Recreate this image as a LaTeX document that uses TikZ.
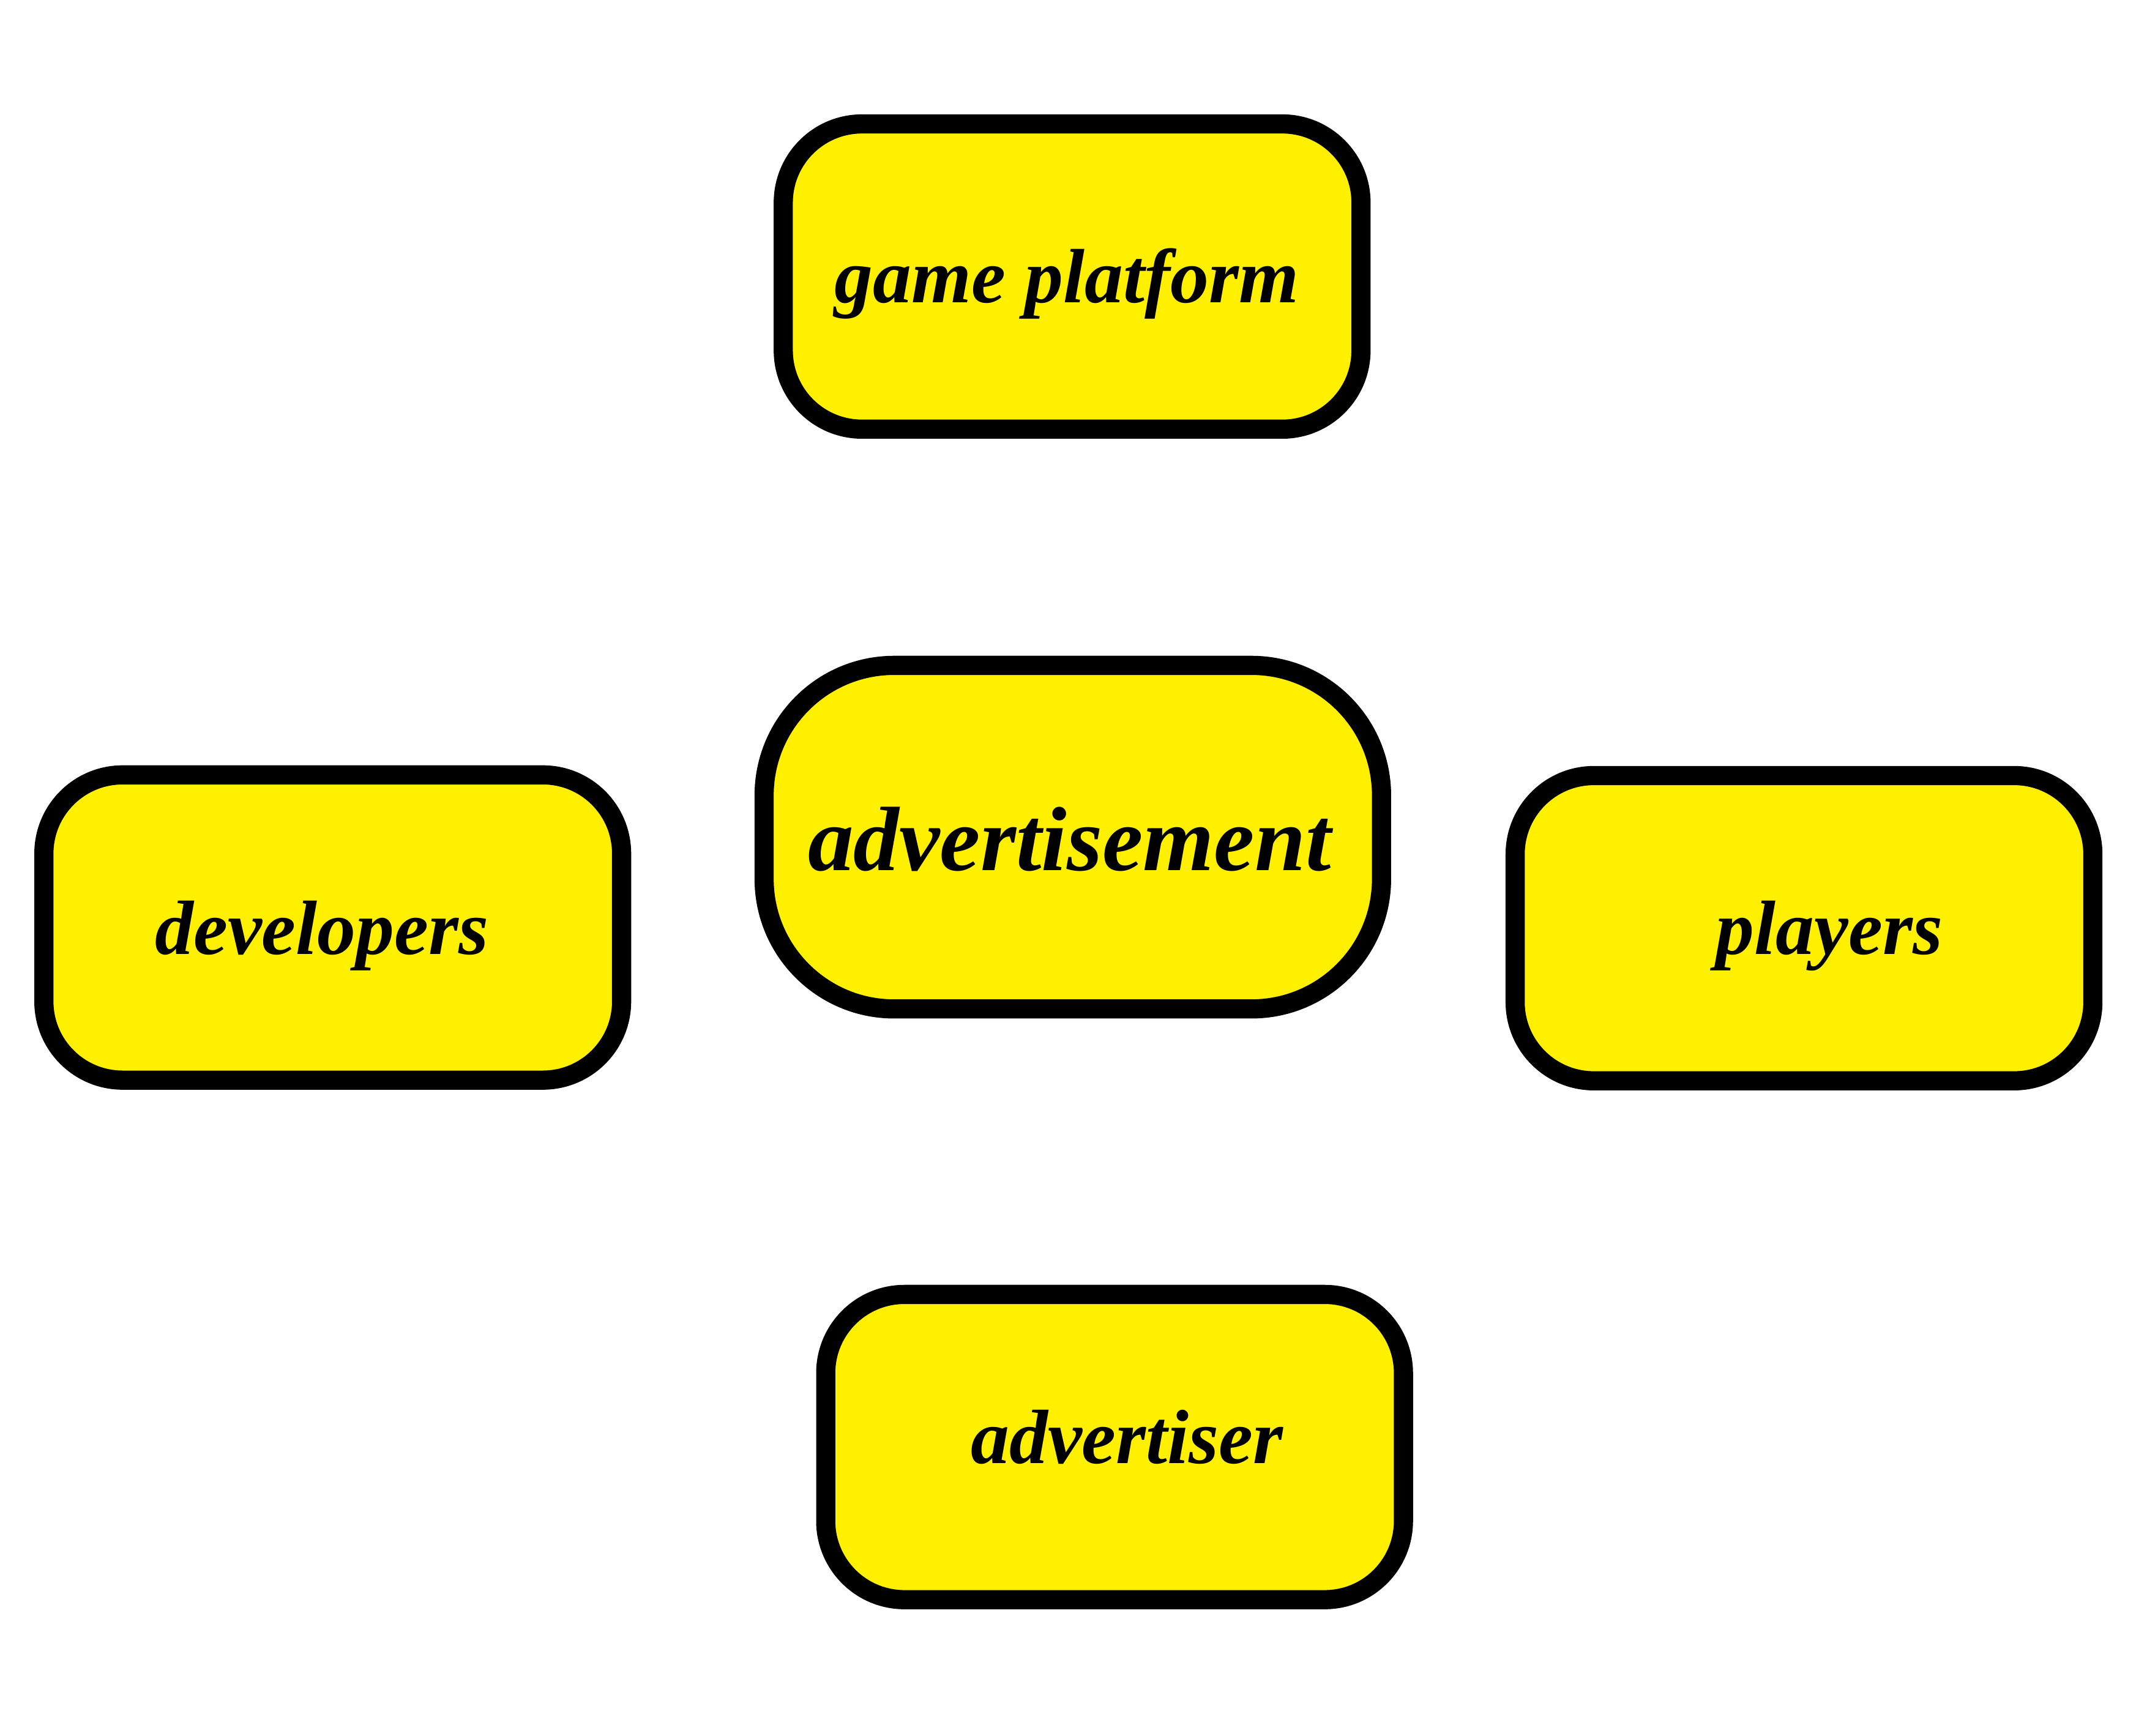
\documentclass[tikz,border=0pt]{standalone}
\usepackage{fontspec}
\setmainfont{Liberation Serif}
\definecolor{BoxYellow}{RGB}{255,240,0}
\usetikzlibrary{positioning}

\begin{document}
\begin{tikzpicture}[
        x=0.02cm, y=-0.02cm,
        box/.style={draw, line width=0.28cm, fill=BoxYellow, rounded corners=1.15cm,
                    minimum width=8.44cm, minimum height=4.46cm, inner sep=0pt},
        bigbox/.style={box, rounded corners=1.9cm, minimum width=9.02cm, minimum height=5.02cm},
        lbl/.style={anchor=base, inner sep=0pt, font=\bfseries\itshape\fontsize{32}{36}\selectfont}
      ]
        \useasboundingbox (0,0) rectangle (1568,1268);
        % boxes
        \node[box]    (platform) at (783,202)    {};
        \node[bigbox] (ad)       at (783.5,611.5) {};
        \node[box]    (dev)      at (243,677.5)  {};
        \node[box]    (players)  at (1317.5,678) {};
        \node[box]    (advert)   at (814,1057)   {};
        % texts
        \node[lbl] (platform-t) at (779,221)  {game platform};
        \node[lbl, font=\bfseries\itshape\fontsize{38}{42}\selectfont] (ad-t) at (781,636) {advertisement};
        \node[lbl] (dev-t)      at (235,697)  {developers};
        \node[lbl] (players-t)  at (1336,697) {players};
        \node[lbl] (advert-t)   at (823,1069) {advertiser};
      \end{tikzpicture}
\end{document}
